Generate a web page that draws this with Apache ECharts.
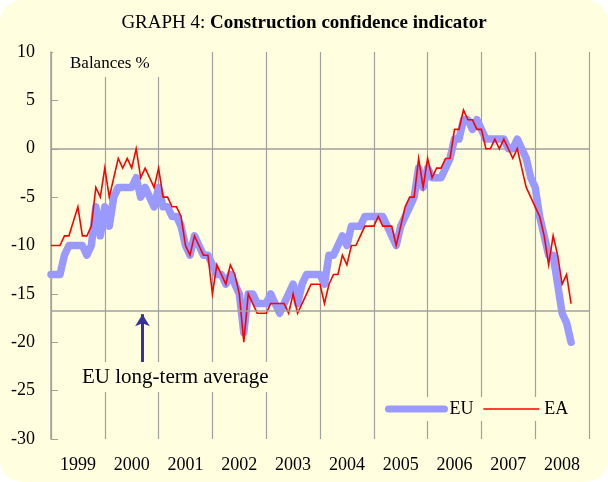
<!DOCTYPE html>
<html>
<head>
<meta charset="utf-8">
<script src="https://cdn.jsdelivr.net/npm/echarts@6/dist/echarts.min.js"></script>
<style>
html,body{margin:0;padding:0;background:#ffffff;}
#box{width:608px;height:482px;background:#FFFFE0;border-radius:22px;overflow:hidden;}
#chart{width:608px;height:482px;}
</style>
</head>
<body>
<div id="box"><div id="chart"></div></div>
<script>
// Monthly data, Jan 1999 .. Sep 2008 (index 0 = Jan 1999)
const years = ['1999','2000','2001','2002','2003','2004','2005','2006','2007','2008'];
const yTicks = [-30, -25, -20, -15, -10, -5, 0, 5, 10];
const euValues = [
  -13,-13,-13,-11,-10,-10,-10,-10,-11,-10,-6,-9,
  -6,-8,-5,-4,-4,-4,-4,-3,-5,-4,-5,-6,
  -4,-6,-6,-7,-7,-8,-10,-11,-9,-10,-11,-11,
  -12,-13,-13,-14,-13,-14,-15,-19,-15,-15,-16,-16,
  -16,-15,-16,-17,-16,-15,-14,-16,-14,-13,-13,-13,
  -13,-14,-11,-11,-10,-9,-10,-8,-8,-8,-7,-7,
  -7,-7,-7,-8,-9,-10,-8,-7,-6,-5,-2,-4,
  -2,-3,-3,-3,-2,-1,1,1,3,3,2,3,
  2,1,1,1,1,1,0,0,1,0,-1,-3,
  -4,-7,-9,-11,-11,-14,-17,-18,-20
];
const eaValues = [
  -10,-10,-10,-9,-9,-7.5,-6,-9,-9,-8,-4,-5,
  -2,-5,-3,-1,-2,-1,-2,0,-3,-2,-3,-4,
  -2,-5,-5,-6,-6,-7,-10,-11,-9,-10,-11,-11,
  -15,-12,-13,-14,-12,-13,-15,-20,-15,-16,-17,-17,
  -17,-16,-16,-16,-16,-17,-15,-17,-16,-15,-14,-14,
  -14,-16,-14,-13,-13,-11,-12,-10,-10,-9,-8,-8,
  -8,-7,-8,-8,-8,-10,-8,-6,-5,-5,-1,-4,
  -1,-3,-2,-2,-1,-1,2,2,4,3,3,2,
  2,0,0,1,0,1,0,-1,0,-2,-4,-5,
  -6,-7,-9,-12,-9,-11,-14,-13,-16
];
const euLongTermAverage = -16.7;
const arrowMonth = 20.4;
const arrowFrom = -22.3;
const arrowTo = -17.1;

const FONT = 'Liberation Serif';
const BG = '#FFFFE0';
const GRID = '#a0a0a0';

const chart = echarts.init(document.getElementById('chart'), null, {renderer: 'canvas'});
chart.setOption({
  backgroundColor: 'transparent',
  animation: false,
  title: {
    text: '{a|GRAPH 4: }{b|Construction confidence indicator}',
    left: 'center',
    top: 9,
    textStyle: {
      fontWeight: 'normal',
      fontFamily: FONT,
      rich: {
        a: {fontFamily: FONT, fontSize: 19, fontWeight: 'normal', color: '#000'},
        b: {fontFamily: FONT, fontSize: 19, fontWeight: 'bold', color: '#000'}
      }
    }
  },
  grid: {left: 51, right: 19, top: 52, bottom: 43, containLabel: false},
  legend: {
    data: [
      {name: 'EU', lineStyle: {width: 7, cap: 'round', color: '#9999FF'}},
      {name: 'EA', lineStyle: {width: 1.6, color: '#FF0000'}}
    ],
    left: 381,
    top: 397,
    itemWidth: 56,
    itemHeight: 12,
    itemGap: 9,
    padding: [3, 4],
    backgroundColor: BG,
    itemStyle: {opacity: 0, borderWidth: 0},
    textStyle: {fontFamily: FONT, fontSize: 18, color: '#000'}
  },
  xAxis: [
    {
      type: 'value', min: 0, max: 120, interval: 12,
      axisLabel: {show: false},
      axisLine: {show: true, lineStyle: {color: GRID, width: 1.5}},
      axisTick: {show: true, inside: true, length: 5, lineStyle: {color: GRID}},
      splitLine: {show: true, lineStyle: {color: GRID, width: 1.2}}
    },
    {
      type: 'category', data: years, boundaryGap: true, position: 'bottom',
      axisLine: {show: false}, axisTick: {show: false}, splitLine: {show: false},
      axisLabel: {fontFamily: FONT, fontSize: 18, color: '#000', margin: 17}
    }
  ],
  yAxis: {
    type: 'value', min: yTicks[0], max: yTicks[yTicks.length - 1], interval: 5,
    axisLine: {show: true, lineStyle: {color: GRID, width: 1.5}},
    axisTick: {show: true, inside: true, length: 7, lineStyle: {color: GRID}},
    splitLine: {show: false},
    axisLabel: {fontFamily: FONT, fontSize: 18, color: '#000', margin: 16}
  },
  graphic: [
    {type: 'rect', z: 5, shape: {x: 53, y: 51, width: 127, height: 26}, style: {fill: BG}},
    {type: 'text', z: 6, style: {text: 'Balances %', x: 70, y: 64, verticalAlign: 'middle', font: '17px "Liberation Serif"', fill: '#000'}},
    {type: 'text', z: 6, style: {text: 'EU long-term average', x: 79, y: 377, verticalAlign: 'middle', font: '21px "Liberation Serif"', fill: '#000', backgroundColor: BG, padding: [4, 3, 5, 3]}}
  ],
  series: [
    {
      name: 'EU', type: 'line', xAxisIndex: 0, showSymbol: false, symbol: 'none',
      data: euValues.map((v, i) => [i, v]),
      lineStyle: {color: '#9999FF', width: 7.5, cap: 'round', join: 'round'},
      itemStyle: {color: '#9999FF'},
      z: 2,
      markLine: {
        silent: true, symbol: ['none', 'none'], animation: false,
        label: {show: false},
        data: [
          {yAxis: euLongTermAverage, lineStyle: {color: GRID, width: 1.5, type: 'solid'}},
          [
            {coord: [arrowMonth, arrowFrom], symbol: 'none', lineStyle: {color: '#333399', width: 3, type: 'solid'}},
            {coord: [arrowMonth, arrowTo], symbol: 'arrow', symbolSize: [11, 12]}
          ]
        ]
      }
    },
    {
      name: 'EA', type: 'line', xAxisIndex: 0, showSymbol: false, symbol: 'none',
      data: eaValues.map((v, i) => [i, v]),
      lineStyle: {color: '#FF0000', width: 1.6, join: 'miter'},
      itemStyle: {color: '#FF0000'},
      z: 3
    }
  ]
});
</script>
</body>
</html>
